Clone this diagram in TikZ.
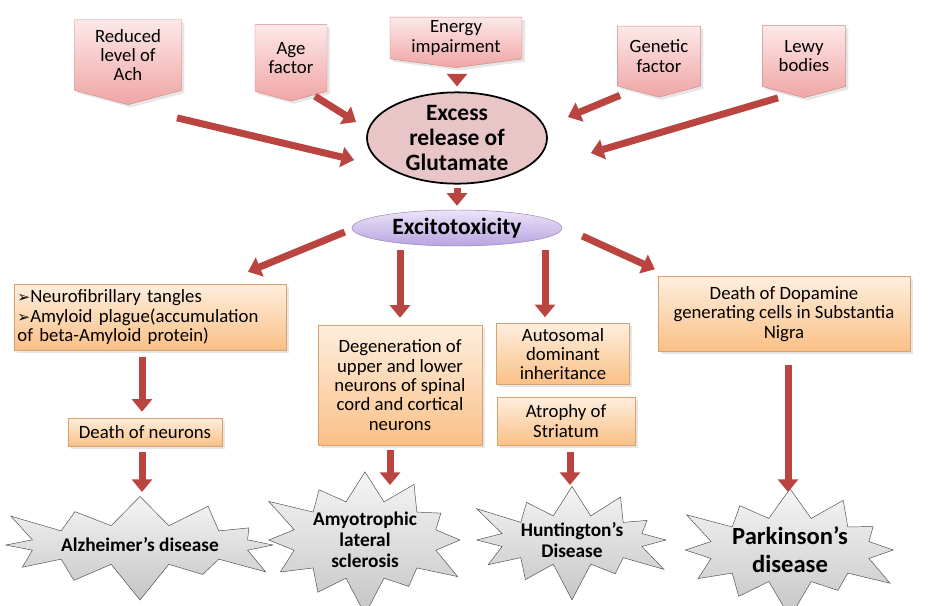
\documentclass[tikz,border=0pt]{standalone}
\usepackage{fontspec}
\setmainfont{Carlito}
\newfontfamily\symbfont{DejaVu Sans}
\usetikzlibrary{shapes.geometric,shapes.symbols,arrows.meta,calc,shadows}

\definecolor{rougefleche}{RGB}{185,68,64}
\definecolor{rosehaut}{RGB}{253,232,232}
\definecolor{rosebas}{RGB}{240,165,165}
\definecolor{orhaut}{RGB}{254,238,222}
\definecolor{orbas}{RGB}{250,192,134}
\definecolor{lilashaut}{RGB}{236,228,250}
\definecolor{lilasbas}{RGB}{184,164,224}
\definecolor{glufond}{RGB}{232,198,200}

\tikzset{
  cause/.style={signal, signal to=south, signal pointer angle=150,
    top color=rosehaut, bottom color=rosebas, draw=rosebas!85!black,
    align=center, inner sep=2pt, drop shadow={opacity=0.2},
    font=\fontsize{16}{16.5}\selectfont},
  boite/.style={rectangle, top color=orhaut, bottom color=orbas,
    draw=orbas!85!black, align=center, inner sep=3pt,
    drop shadow={opacity=0.2}, font=\fontsize{16}{16.5}\selectfont},
  maladie/.style={starburst, starburst points=12, starburst point height=1.2cm,
    top color=gray!8, bottom color=gray!45, draw=gray!60!black,
    align=center, inner sep=0pt, font=\bfseries\fontsize{16.5}{18}\selectfont},
  grossefleche/.style={draw=rougefleche, line width=0.21cm,
    -{Triangle[length=0.38cm,width=0.6cm]}},
}

\begin{document}
\begin{tikzpicture}[x=0.03cm,y=-0.03cm]
  % cadre de l'image (coordonnees en pixels, y vers le bas)
  \useasboundingbox (0,0) rectangle (930,605);
  \clip (0,0) rectangle (930,605);

  % les causes en haut
  \node[cause, minimum width=3.21cm, minimum height=2.4cm] (reduced) at (128,55) {Reduced\\level of\\Ach};
  \node[cause, minimum width=2.16cm, minimum height=2.2cm] (age) at (291,58) {Age\\factor};
  \node[cause, signal pointer angle=165, minimum width=3.96cm, minimum height=1.44cm] (energy) at (456,38) {Energy\\impairment};
  \node[cause, minimum width=2.5cm, minimum height=2.05cm] (genetic) at (659,56) {Genetic\\factor};
  \node[cause, minimum width=2.5cm, minimum height=2.05cm] (lewy) at (804,56) {Lewy\\bodies};

  % le glutamate et l'excitotoxicite
  \node[ellipse, fill=glufond, draw=black, line width=1.5pt, minimum width=5.4cm, minimum height=2.46cm,
    align=center, inner sep=0pt, font=\bfseries\fontsize{20}{21}\selectfont] (glu) at (457,138) {Excess\\release of\\Glutamate};
  \node[ellipse, top color=lilashaut, bottom color=lilasbas, draw=lilasbas!80!black, minimum width=6.3cm,
    minimum height=1.08cm, inner sep=0pt, font=\bfseries\fontsize{20}{21}\selectfont] (exc) at (457,228) {Excitotoxicity};

  % les boites intermediaires
  \node[boite, align=left, text width=7.95cm, minimum height=1.98cm] (plaques) at (150,317)
    {{\symbfont\fontsize{13}{16.5}\selectfont ➢}Neurofibrillary tangles\\{\symbfont\fontsize{13}{16.5}\selectfont ➢}Amyloid plague(accumulation\\of beta-Amyloid protein)};
  \node[boite, minimum width=4.62cm, minimum height=0.84cm] (neurons) at (145,432) {Death of neurons};
  \node[boite, minimum width=4.92cm, minimum height=3.6cm] (degen) at (400,385)
    {Degeneration of\\upper and lower\\neurons of spinal\\cord and cortical\\neurons};
  \node[boite, minimum width=3.99cm, minimum height=1.83cm] (auto) at (563,354) {Autosomal\\dominant\\inheritance};
  \node[boite, minimum width=4.14cm, minimum height=1.44cm] (atrophy) at (566,421) {Atrophy of\\Striatum};
  \node[boite, minimum width=7.56cm, minimum height=2.25cm] (dopa) at (784,314)
    {Death of Dopamine\\generating cells in Substantia\\Nigra};

  % les maladies
  \node[maladie, shape border rotate=4, minimum width=8cm, minimum height=3.6cm] (alz) at (140,545) {Alzheimer’s disease};
  \node[maladie, shape border rotate=-6, minimum width=6.4cm, minimum height=3.8cm] (als) at (365,540) {Amyotrophic\\lateral\\sclerosis};
  \node[maladie, shape border rotate=5, minimum width=6.4cm, minimum height=3.8cm] (hunt) at (572,540) {Huntington's\\Disease};
  \node[maladie, shape border rotate=-3, minimum width=7.2cm, minimum height=3.6cm,
    font=\bfseries\fontsize{21}{24}\selectfont] (park) at (790,550) {Parkinson's\\disease};

  % fleches vers le glutamate
  \draw[grossefleche] ($(reduced.south)+(49,13)$) -- ($(glu.west)+(-12,22)$);
  \draw[grossefleche] ($(age.south)+(24,-5)$) -- ($(glu.west)+(-10,-16)$);
  \draw[grossefleche] ($(energy.south)+(1,6)$) -- ($(glu.north)+(0,-5)$);
  \draw[grossefleche] ($(genetic.south)+(-39,-2)$) -- ($(glu.east)+(20,-21)$);
  \draw[grossefleche] ($(lewy.south)+(-26,0)$) -- ($(glu.east)+(43,15)$);
  \draw[grossefleche] ($(glu.south)+(0,3)$) -- ($(exc.north)+(0,-4)$);

  % fleches depuis l'excitotoxicite
  \draw[grossefleche] ($(exc.west)+(-7,4)$) -- ($(plaques.north)+(98,-12)$);
  \draw[grossefleche] ($(exc.south)+(-57,4)$) -- ($(degen.north)+(0,-7)$);
  \draw[grossefleche] ($(exc.south)+(88,4)$) -- ($(auto.north)+(-18,-6)$);
  \draw[grossefleche] ($(exc.east)+(20,8)$) -- ($(dopa.north)+(-129,-7)$);

  % fleches vers les maladies
  \draw[grossefleche] ($(plaques.south)+(-8,7)$) -- ($(neurons.north)+(-3,-6)$);
  \draw[grossefleche] ($(neurons.south)+(-3,6)$) -- ($(alz.center)+(2,-53)$);
  \draw[grossefleche] ($(degen.south)+(-10,5)$) -- ($(als.center)+(25,-55)$);
  \draw[grossefleche] ($(atrophy.south)+(4,7)$) -- ($(hunt.center)+(-2,-55)$);
  \draw[grossefleche] ($(dopa.south)+(4,13)$) -- ($(park.center)+(-2,-58)$);
\end{tikzpicture}
\end{document}
